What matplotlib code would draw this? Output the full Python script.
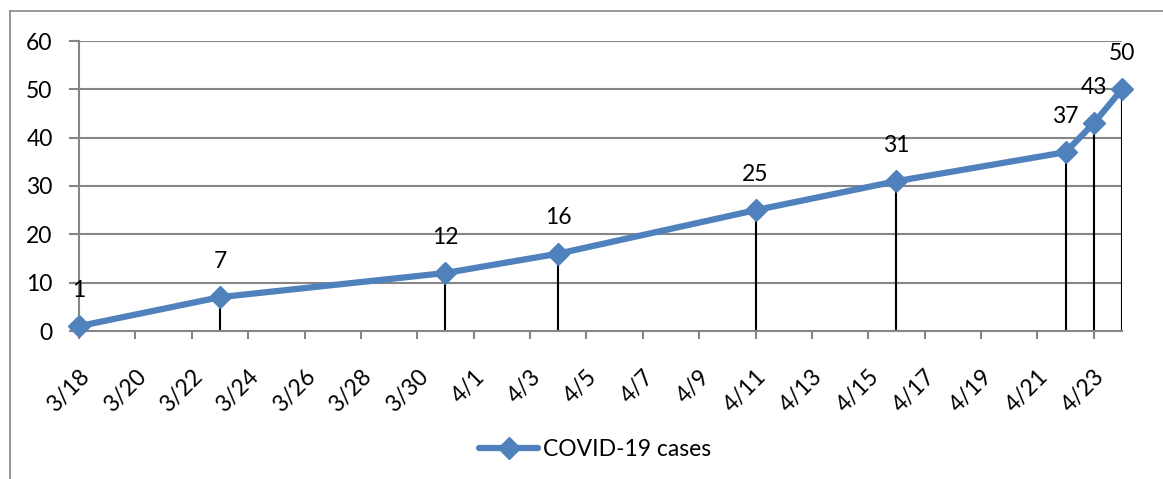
import datetime as dt
import matplotlib
matplotlib.use("Agg")
import matplotlib.pyplot as plt
import matplotlib.transforms as mtransforms
from matplotlib.lines import Line2D

plt.rcParams['font.family'] = ['Lato', 'DejaVu Sans']

dates = ["2020-03-18", "2020-03-23", "2020-03-31", "2020-04-04", "2020-04-11",
         "2020-04-16", "2020-04-22", "2020-04-23", "2020-04-24"]
cases = [1, 7, 12, 16, 25, 31, 37, 43, 50]
series_name = "COVID-19 cases"
y_ticks = [0, 10, 20, 30, 40, 50, 60]

x = [dt.datetime.strptime(d, "%Y-%m-%d") for d in dates]

fig = plt.figure(figsize=(11.63, 4.79), dpi=100)
ax = fig.add_axes([79/1163, 1-331/479, (1122-79)/1163, (331-41)/479])

grid_c = "#868686"
blue = "#4F81BD"
fs = 16.5

# outer chart border
fig.add_artist(Line2D([10/1163, 10/1163], [0, 1-11/479], transform=fig.transFigure, color=grid_c, lw=1.2))
fig.add_artist(Line2D([10/1163, 1], [1-11/479, 1-11/479], transform=fig.transFigure, color=grid_c, lw=1.2))

ax.set_xlim(x[0], x[-1])
ax.set_ylim(0, 60)
ax.set_yticks(y_ticks)
for yv in y_ticks[1:]:
    ax.axhline(yv, color=grid_c, lw=1.5, zorder=1)

# drop lines
ax.vlines(x, 0, cases, colors="black", lw=1.5, zorder=2)
ax.plot(x, cases, color=blue, lw=4.5, marker="D", markersize=11, zorder=3,
        label=series_name, solid_capstyle="round", clip_on=False)

for xi, yi in zip(x, cases):
    ax.annotate(str(yi), (xi, yi), xytext=(0, 36), textcoords="offset pixels",
                ha="center", va="center", fontsize=fs, zorder=4)

tick_dates = []
d = x[0]
while d <= dt.datetime(2020, 4, 23):
    tick_dates.append(d)
    d += dt.timedelta(days=2)
ax.set_xticks(tick_dates)
ax.set_xticklabels([f"{t.month}/{t.day}" for t in tick_dates], rotation=45,
                   ha="right", rotation_mode="anchor", fontsize=fs)
shift = mtransforms.ScaledTranslation(5/100, 0, fig.dpi_scale_trans)
for lbl in ax.get_xticklabels():
    lbl.set_transform(lbl.get_transform() + shift)

for s in ["top", "right"]:
    ax.spines[s].set_visible(False)
for s in ["left", "bottom"]:
    ax.spines[s].set_color(grid_c)
    ax.spines[s].set_linewidth(1.5)

ax.tick_params(axis="y", length=7, width=1.5, color=grid_c, pad=12, labelsize=fs)
ax.tick_params(axis="x", length=6, width=1.5, color=grid_c, pad=19, labelsize=fs)

leg = fig.legend(loc="center", bbox_to_anchor=(595/1163, 1-450/479), frameon=False,
                 fontsize=fs, handlelength=2.6, handletextpad=0.2)

fig.savefig("out.png", dpi=100)
